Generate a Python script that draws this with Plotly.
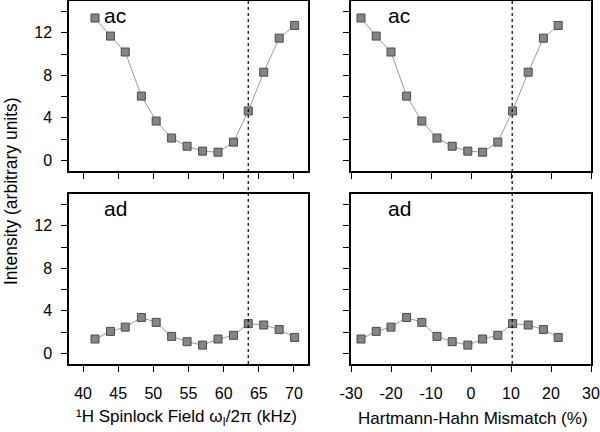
import plotly.graph_objects as go
from plotly.subplots import make_subplots

# ---- data ----
field_khz = [41.7, 43.9, 46.0, 48.3, 50.4, 52.6, 54.8, 57.0, 59.2, 61.4, 63.5, 65.7, 67.9, 70.1]
mismatch_pct = [-27.5, -23.7, -20.0, -16.1, -12.3, -8.5, -4.7, -0.8, 2.9, 6.7, 10.4, 14.3, 18.1, 21.8]
ac_intensity = [13.4, 11.7, 10.2, 6.05, 3.7, 2.1, 1.33, 0.87, 0.77, 1.72, 4.65, 8.3, 11.5, 12.7]
ad_intensity = [1.35, 2.07, 2.47, 3.38, 2.92, 1.6, 1.1, 0.78, 1.35, 1.7, 2.8, 2.67, 2.24, 1.5]
match_field = 63.5
match_mismatch = 10.3

y_major = [0, 4, 8, 12]
y_minor = [2, 6, 10, 14]
left_xticks = [40, 45, 50, 55, 60, 65, 70]
left_xtext = ["40", "45", "50", "55", "60", "65", "70"]
right_xticks = [-30, -20, -10, 0, 10, 20, 30]
right_xtext = ["-30", "-20", "-10", "0", "10", "20", "30"]

FONT = "Arial, Liberation Sans, sans-serif"

fig = make_subplots(rows=2, cols=2)

marker = dict(symbol="square", size=8, color="#858585",
              line=dict(color="#4a4a4a", width=1))
line = dict(color="#9a9a9a", width=1)

series = [
    (field_khz, ac_intensity, 1, 1),
    (mismatch_pct, ac_intensity, 1, 2),
    (field_khz, ad_intensity, 2, 1),
    (mismatch_pct, ad_intensity, 2, 2),
]
for xs, ys, r, c in series:
    fig.add_trace(go.Scatter(x=xs, y=ys, mode="lines+markers", marker=marker,
                             line=line, showlegend=False), row=r, col=c)

W, H = 600, 432
ml, mr, mt, mb = 69, 9, 1, 68
pw = W - ml - mr
ph = H - mt - mb

def px_x(p):
    return (p - ml) / pw

def px_y(p):
    return (H - mb - p) / ph

xdom_left = [0, px_x(308)]
xdom_right = [px_x(351), 1]
ydom_top = [px_y(171), 1]
ydom_bot = [0, px_y(194)]

axis_common = dict(showline=True, linecolor="black", linewidth=1.5, mirror=True,
                   ticks="outside", ticklen=6, tickwidth=1.2, tickcolor="black",
                   showgrid=False, zeroline=False, automargin=False,
                   tickfont=dict(family=FONT, size=16, color="black"))
y_minor_cfg = dict(tickvals=y_minor, ticks="outside", ticklen=6, tickwidth=1.2,
                   tickcolor="black", showgrid=False)

# x axes: 1 TL, 2 TR, 3 BL, 4 BR
fig.update_layout(
    xaxis=dict(domain=xdom_left, range=[38, 72], tickvals=left_xticks,
               showticklabels=False, anchor="y", **axis_common),
    xaxis2=dict(domain=xdom_right, range=[-30, 30], tickvals=right_xticks,
                showticklabels=False, anchor="y2", **axis_common),
    xaxis3=dict(domain=xdom_left, range=[38, 72], tickvals=left_xticks,
                ticktext=left_xtext, anchor="y3", ticklabelstandoff=8, **axis_common),
    xaxis4=dict(domain=xdom_right, range=[-30, 30], tickvals=right_xticks,
                ticktext=right_xtext, anchor="y4", ticklabelstandoff=8, **axis_common),
    yaxis=dict(domain=ydom_top, range=[-1, 15], tickvals=y_major, minor=y_minor_cfg,
               anchor="x", ticklabelstandoff=6, **axis_common),
    yaxis2=dict(domain=ydom_top, range=[-1, 15], tickvals=y_major, minor=y_minor_cfg,
                showticklabels=False, anchor="x2", **axis_common),
    yaxis3=dict(domain=ydom_bot, range=[-1, 15], tickvals=y_major, minor=y_minor_cfg,
                anchor="x3", ticklabelstandoff=6, **axis_common),
    yaxis4=dict(domain=ydom_bot, range=[-1, 15], tickvals=y_major, minor=y_minor_cfg,
                showticklabels=False, anchor="x4", **axis_common),
)

# dashed match lines spanning both panels
for xv, xr in [(match_field, "x3"), (match_mismatch, "x4")]:
    fig.add_shape(type="line", xref=xr, yref="paper", x0=xv, x1=xv, y0=0, y1=1,
                  line=dict(color="black", width=1.2, dash="3px,3px"))

annotations = []
# panel labels
for label, xr, yr, xd in [("ac", "x", "y", (102 - 69) / 239),
                          ("ac", "x2", "y2", (386 - 351) / 240),
                          ("ad", "x3", "y3", (102 - 69) / 239),
                          ("ad", "x4", "y4", (386 - 351) / 240)]:
    annotations.append(dict(text=label, xref=xr + " domain", yref=yr + " domain",
                            x=xd, y=0.915, xanchor="left", yanchor="middle",
                            showarrow=False,
                            font=dict(family=FONT, size=21, color="black")))

annotations.append(dict(text="Intensity (arbitrary units)", xref="paper", yref="paper",
                        x=px_x(11), y=px_y(191), xanchor="center", yanchor="middle",
                        textangle=-90, showarrow=False,
                        font=dict(family=FONT, size=17.5, color="black")))
annotations.append(dict(text="\u00b9H Spinlock Field \u03c9<sub>I</sub>/2\u03c0 (kHz)",
                        xref="paper", yref="paper",
                        x=(px_x(77) + px_x(295)) / 2, y=px_y(418),
                        xanchor="center", yanchor="middle", showarrow=False,
                        font=dict(family=FONT, size=17, color="black")))
annotations.append(dict(text="Hartmann-Hahn Mismatch (%)", xref="paper", yref="paper",
                        x=(px_x(358) + px_x(588)) / 2, y=px_y(418),
                        xanchor="center", yanchor="middle", showarrow=False,
                        font=dict(family=FONT, size=17, color="black")))

fig.update_layout(
    width=W, height=H,
    margin=dict(l=ml, r=mr, t=mt, b=mb),
    paper_bgcolor="white", plot_bgcolor="white",
    annotations=annotations,
    showlegend=False,
)

fig.write_html("out.html",
               config={"displayModeBar": False},
               post_script="document.body.style.margin='0';document.body.style.overflow='hidden';")
